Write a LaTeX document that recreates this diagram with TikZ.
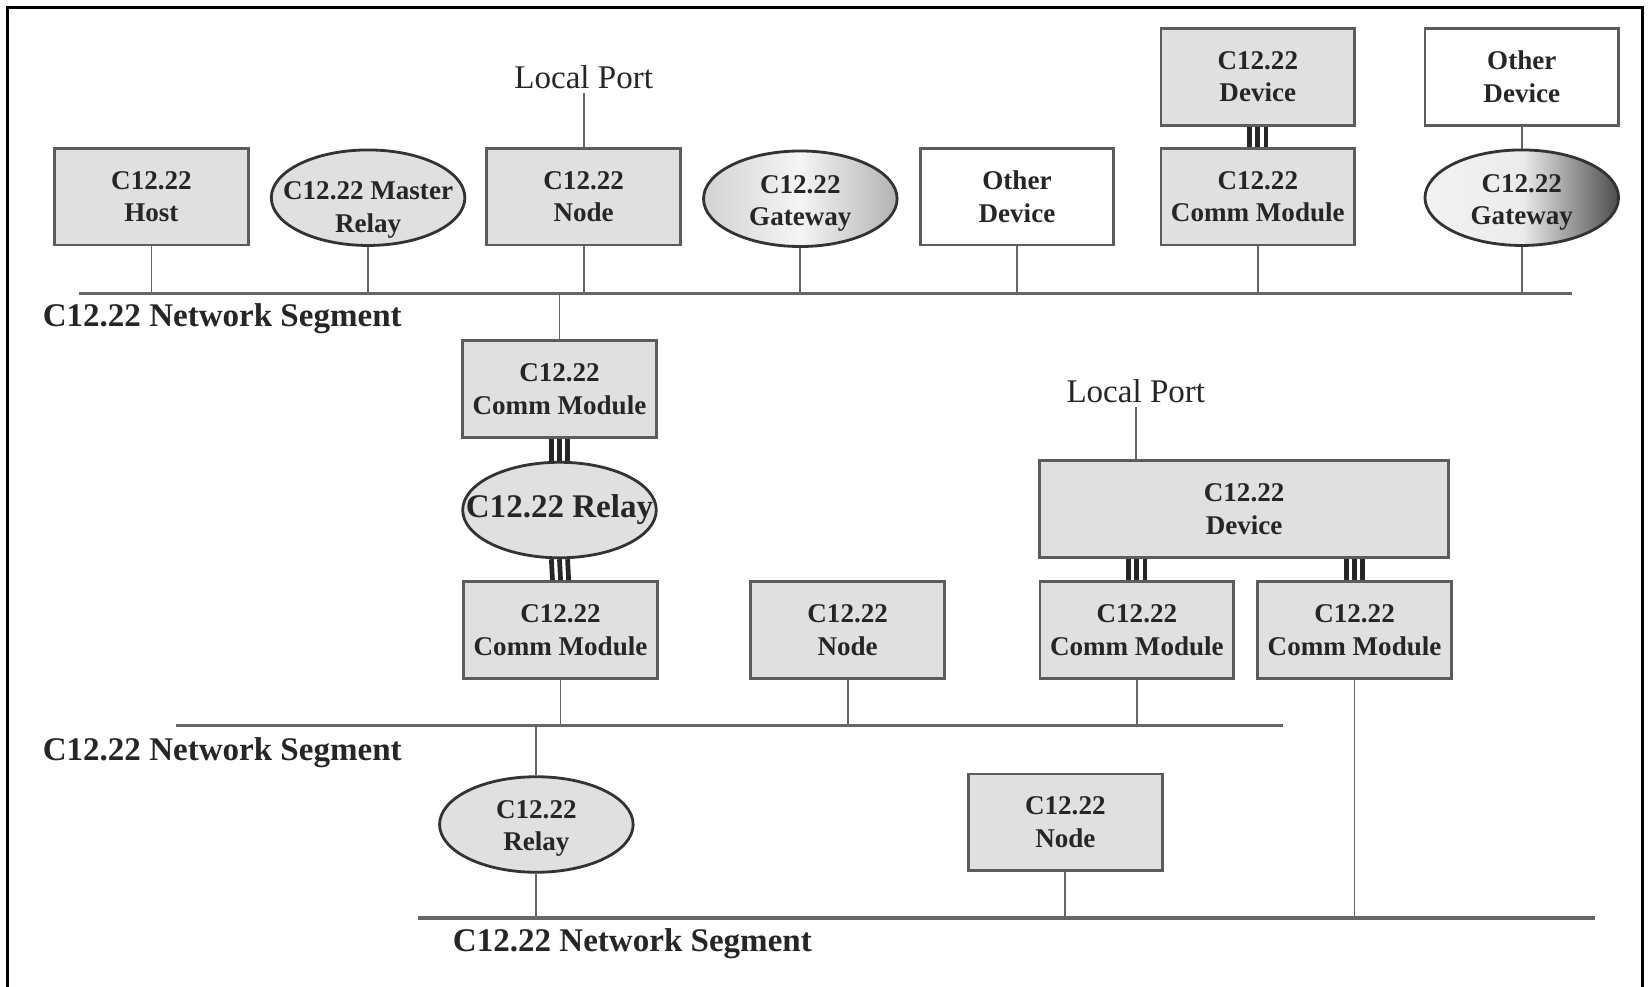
\documentclass[tikz,border=0pt]{standalone}
\usepackage{fontspec}
\setmainfont{Liberation Serif}
\usepackage{tikz}
\usetikzlibrary{shapes.geometric}
\definecolor{boxfill}{gray}{0.88}
\definecolor{boxline}{gray}{0.36}
\definecolor{wireline}{gray}{0.40}

\begin{document}
\begin{tikzpicture}[
  x=0.010517cm, y=-0.010517cm,
  every node/.style={align=center, text=black!85},
  box/.style={draw=boxline, line width=0.8pt, fill=boxfill, minimum width=1.935cm, minimum height=0.968cm, inner sep=0pt, font=\bfseries\fontsize{7.7}{9.3}\selectfont},
  other/.style={box, fill=white},
  wide/.style={box, minimum width=4.09cm},
  oval/.style={ellipse, draw=black!80, line width=0.8pt, fill=boxfill, minimum width=1.935cm, minimum height=0.955cm, inner xsep=-12pt, inner ysep=-4pt, font=\bfseries\fontsize{7.7}{9.3}\selectfont},
  gateway/.style={oval, left color=gray!35, right color=gray!60, middle color=gray!8},
  darkgateway/.style={oval, left color=gray!10, right color=black!70, middle color=gray!15},
  port/.style={font=\fontsize{9.4}{11}\selectfont, inner sep=1pt},
  seglabel/.style={anchor=west, inner sep=0pt, font=\bfseries\fontsize{9.4}{11}\selectfont},
  wire/.style={draw=wireline, line width=0.5pt},
  segment/.style={draw=wireline, line width=1pt},
  link/.style={draw=black!85, line width=1.35pt},
  frame/.style={draw=black, line width=1pt}]

  \useasboundingbox (0,0) rectangle (1568,938);
  \draw[frame] (7,945) -- (7,7) -- (1562,7) -- (1562,945);

  % Network segments
  \coordinate (SegAw) at (75,279);  \coordinate (SegAe) at (1495,279);
  \coordinate (SegBw) at (167,690); \coordinate (SegBe) at (1220,690);
  \coordinate (SegCw) at (397,873); \coordinate (SegCe) at (1517,873);
  \draw[segment] (SegAw) -- (SegAe);
  \draw[segment] (SegBw) -- (SegBe);
  \draw[segment] (SegCw) -- (SegCe);
  \node[seglabel] (LblA) at (40,303) {C12.22 Network Segment};
  \node[seglabel] (LblB) at (40,716) {C12.22 Network Segment};
  \node[seglabel] (LblC) at (430,897) {C12.22 Network Segment};

  % Top row
  \node[box] (Host) at (144,187) {C12.22\\Host};
  \node[oval] (MRelay) at (350,188) {\rule{0pt}{12pt}C12.22 Master\\Relay};
  \node[box] (NodeA) at (555,187) {C12.22\\Node};
  \node[port] (LpA) at (555,73) {Local Port};
  \node[gateway] (GwA) at (761,189) {\rule{0pt}{7.8pt}C12.22\\Gateway};
  \node[other] (OthA) at (967,187) {Other\\Device};
  \node[box] (DevA) at (1196,73) {C12.22\\Device};
  \node[box] (CmA) at (1196,187) {C12.22\\Comm Module};
  \node[other] (OthB) at (1447,73) {Other\\Device};
  \node[darkgateway] (GwB) at (1447,188) {\rule{0pt}{7.8pt}C12.22\\Gateway};

  % Relay chain and second segment
  \node[box] (CmB) at (532,370) {C12.22\\Comm Module};
  \node[oval, font=\bfseries\fontsize{9.4}{11}\selectfont] (RelA) at (532,485) {C12.22 Relay};
  \node[box] (CmC) at (533,599) {C12.22\\Comm Module};
  \node[box] (NodeB) at (806,599) {C12.22\\Node};
  \node[port] (LpB) at (1080,372) {Local Port};
  \node[wide] (DevB) at (1183,484) {C12.22\\Device};
  \node[box] (CmD) at (1081,599) {C12.22\\Comm Module};
  \node[box] (CmE) at (1288,599) {C12.22\\Comm Module};

  % Bottom row
  \node[oval] (RelB) at (510,784) {\rule{0pt}{7.4pt}C12.22\\Relay};
  \node[box] (NodeC) at (1013,782) {C12.22\\Node};

  % Drops to the segments
  \foreach \n in {Host,MRelay,NodeA,GwA,OthA,CmA,GwB,CmB}
    \draw[wire] (\n) -- (\n |- SegAw);
  \foreach \n in {CmC,NodeB,CmD,RelB}
    \draw[wire] (\n) -- (\n |- SegBw);
  \foreach \n in {RelB,NodeC,CmE}
    \draw[wire] (\n) -- (\n |- SegCw);
  \draw[wire] (LpA) -- (NodeA);
  \draw[wire] (LpB) -- (LpB |- DevB.north);
  \draw[wire] (OthB) -- (GwB);

  % Module links
  \foreach \dx in {-2.3pt,0pt,2.3pt} {
    \draw[link] ([xshift=\dx]DevA.south) -- ([xshift=\dx]CmA.north);
    \draw[link] ([xshift=\dx]CmB.south) -- ([xshift=\dx]RelA.north);
    \draw[link] ([xshift=\dx]RelA.south) -- ([xshift=\dx]CmC.north);
    \draw[link] ([xshift=\dx]CmD.north |- DevB.south) -- ([xshift=\dx]CmD.north);
    \draw[link] ([xshift=\dx]CmE.north |- DevB.south) -- ([xshift=\dx]CmE.north);
  }
\end{tikzpicture}
\end{document}
